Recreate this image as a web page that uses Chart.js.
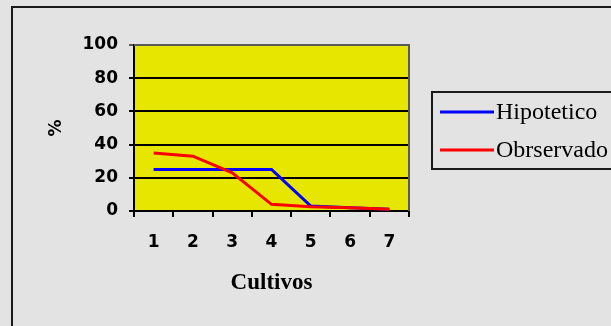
<!DOCTYPE html>
<html>
<head>
<meta charset="utf-8">
<script src="https://cdn.jsdelivr.net/npm/chart.js@4"></script>
<style>
  body { margin: 0; background: #e3e3e3; }
  canvas { display: block; }
</style>
</head>
<body>
<canvas id="myLineChart" width="611" height="326"></canvas>
<script>
var cultivos = ["1", "2", "3", "4", "5", "6", "7"];
var hipotetico = [25, 25, 25, 25, 3, 2, 1];
var observado = [35, 33, 23, 4, 2.5, 2, 1];
var yTicks = [0, 20, 40, 60, 80, 100];

// fondo, marco exterior, area amarilla y leyenda
var decoPlugin = {
    id: 'deco',
    beforeDraw: function (chart) {
        var c = chart.ctx, a = chart.chartArea;
        c.save();
        c.fillStyle = "#e3e3e3";
        c.fillRect(0, 0, chart.width, chart.height);
        c.strokeStyle = "#1a1a1a";
        c.lineWidth = 2;
        c.beginPath();
        c.moveTo(12, chart.height + 5);
        c.lineTo(12, 7);
        c.lineTo(chart.width + 5, 7);
        c.stroke();
        c.fillStyle = "#e6e600";
        c.fillRect(a.left, a.top, a.right - a.left, a.bottom - a.top);
        c.restore();
    },
    afterDraw: function (chart) {
        var c = chart.ctx, a = chart.chartArea;
        c.save();
        // borde superior y derecho del area
        c.strokeStyle = "#5a5a5a";
        c.lineWidth = 2;
        c.beginPath();
        c.moveTo(a.left, a.top);
        c.lineTo(a.right, a.top);
        c.lineTo(a.right, a.bottom);
        c.stroke();
        c.strokeStyle = "#000";
        c.beginPath();
        c.moveTo(a.right, a.bottom);
        c.lineTo(a.right, a.bottom + 6);
        c.stroke();
        // leyenda
        c.strokeStyle = "#1a1a1a";
        c.lineWidth = 2;
        c.strokeRect(432, 92, 260, 77);
        c.font = "24px 'Liberation Serif'";
        c.textBaseline = "middle";
        c.textAlign = "left";
        chart.data.datasets.forEach(function (ds, i) {
            var y = 112 + i * 38;
            c.strokeStyle = ds.borderColor;
            c.lineWidth = 3;
            c.beginPath();
            c.moveTo(440, y);
            c.lineTo(494, y);
            c.stroke();
            c.fillStyle = "#000";
            c.fillText(ds.label, 496, y + 1);
        });
        c.restore();
    }
};

var ctx = document.getElementById("myLineChart");
var data = {
    labels: cultivos,
    datasets: [
        {
            label: "Hipotetico",
            data: hipotetico,
            borderColor: "#0000ff",
            borderWidth: 3,
            pointRadius: 0,
            order: 1
        },
        {
            label: "Obrservado",
            data: observado,
            borderColor: "#ff0000",
            borderWidth: 3,
            pointRadius: 0,
            order: 0
        }]
};
var myLineChart = new Chart(ctx, {
    type: 'line',
    data: data,
    plugins: [decoPlugin],
    options: {
        responsive: false,
        animation: false,
        layout: { padding: { left: 0, top: 45, right: 202, bottom: 0 } },
        plugins: {
            legend: { display: false },
            tooltip: { enabled: false }
        },
        scales: {
            x: {
                offset: true,
                grid: {
                    offset: true,
                    drawOnChartArea: false,
                    drawTicks: true,
                    tickLength: 6,
                    color: "#000",
                    lineWidth: 2
                },
                border: { color: "#000", width: 2 },
                ticks: {
                    color: "#000",
                    padding: 15,
                    font: { family: "'DejaVu Sans'", size: 17, weight: '600' }
                },
                title: {
                    display: true,
                    text: "Cultivos",
                    color: "#000",
                    font: { family: "'Liberation Serif'", size: 23, weight: 'bold' },
                    padding: { top: 0, bottom: 29 }
                },
                afterFit: function (scale) { scale.height = 115; }
            },
            y: {
                min: 0,
                max: 100,
                afterBuildTicks: function (scale) {
                    scale.ticks = yTicks.map(function (v) { return { value: v }; });
                },
                grid: {
                    color: function (c) { return c.tick && c.tick.value === 100 ? "#5a5a5a" : "#000"; },
                    lineWidth: 2,
                    tickLength: 5
                },
                border: { color: "#000", width: 2 },
                ticks: {
                    color: "#000",
                    padding: 11,
                    font: { family: "'DejaVu Sans'", size: 17, weight: '600' }
                },
                title: {
                    display: true,
                    text: "%",
                    color: "#000",
                    font: { family: "'DejaVu Sans'", size: 17, weight: 'bold' },
                    padding: { top: 46, bottom: 0 }
                },
                afterFit: function (scale) { scale.width = 134; }
            }
        }
    }
});
</script>
</body>
</html>
